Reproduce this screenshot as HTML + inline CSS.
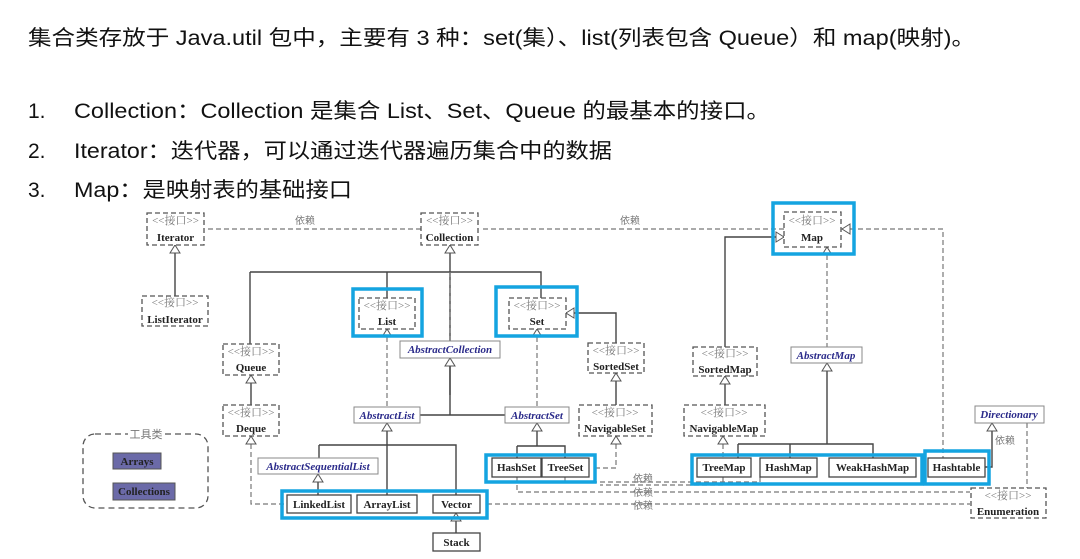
<!DOCTYPE html>
<html><head><meta charset="utf-8"><style>
html,body{margin:0;padding:0;background:#fff;width:1080px;height:559px;overflow:hidden}
svg{display:block}
.t{font-family:"Liberation Sans","Noto Sans CJK SC",sans-serif;font-size:21px;fill:#111}
.st{font-family:"Liberation Serif","Noto Serif CJK SC",serif;font-size:11px;fill:#777}
.nm{font-family:"Liberation Serif",serif;font-size:11px;font-weight:bold;fill:#222}
.ab{font-family:"Liberation Serif",serif;font-size:11px;font-weight:bold;font-style:italic;fill:#2a2a8a}
.dep{font-family:"Noto Sans CJK SC",sans-serif;font-size:10px;fill:#777}
.ib{fill:#fff;stroke:#555;stroke-width:1.3;stroke-dasharray:5,3}
.cb{fill:#fff;stroke:#444;stroke-width:1.3}
.ac{fill:#fff;stroke:#888;stroke-width:1}
.bl{fill:none;stroke:#14a4e0;stroke-width:3.5}
.s{fill:none;stroke:#444;stroke-width:1.4}
.d{fill:none;stroke:#777;stroke-width:1.2;stroke-dasharray:5,3}
.tri{fill:#fff;stroke:#555;stroke-width:1}
</style></head><body>
<svg width="1080" height="559" viewBox="0 0 1080 559" xmlns="http://www.w3.org/2000/svg">
<text class="t" x="28" y="45" textLength="947" lengthAdjust="spacingAndGlyphs">集合类存放于 Java.util 包中，主要有 3 种：set(集）、list(列表包含 Queue）和 map(映射)。</text>
<text class="t" x="28" y="118">1.</text>
<text class="t" x="74" y="118" textLength="696" lengthAdjust="spacingAndGlyphs">Collection：Collection 是集合 List、Set、Queue 的最基本的接口。</text>
<text class="t" x="28" y="158">2.</text>
<text class="t" x="74" y="158" textLength="538" lengthAdjust="spacingAndGlyphs">Iterator：迭代器，可以通过迭代器遍历集合中的数据</text>
<text class="t" x="28" y="197">3.</text>
<text class="t" x="74" y="197" textLength="278" lengthAdjust="spacingAndGlyphs">Map：是映射表的基础接口</text>

<path class="d" d="M421 229 H206"/><text class="dep" x="295" y="224">依赖</text>
<path class="d" d="M784 229 H480"/><text class="dep" x="620" y="224">依赖</text>
<path class="s" d="M175 245 V296"/>
<path class="s" d="M450 245 V395 M250 272 H541 V298 M250 272 V344 M387 272 V298"/>
<path class="d" d="M387 329 V407 M450 272 V341"/>
<path class="s" d="M450 358 V415 M420 415 H505"/>
<path class="d" d="M537 329 V407"/>
<path class="s" d="M566 313 H616 V343 M616 373 V405"/>
<path class="s" d="M251 375 V405"/>
<path class="d" d="M251 436 V504 H287"/>
<path class="s" d="M387 423 V495 M318 474 V495 M319 445 H456 V495 M319 445 V458"/>
<path class="s" d="M537 423 V446 M517 446 H565 V458 M517 446 V458"/>
<path class="d" d="M616 436 V468 H595"/>
<path class="d" d="M517 477 V492 H970 M565 477 V482 H760 M487 504 H970"/>
<path class="d" d="M760 482 V477 M723 477 V485 H600"/>
<text class="dep" x="633" y="482">依赖</text><text class="dep" x="633" y="496">依赖</text><text class="dep" x="633" y="509">依赖</text>
<path class="s" d="M456 513 V533"/>
<path class="s" d="M784 237 H725 V347 M725 376 V405"/>
<path class="d" d="M827 247 V347 M723 436 V458"/>
<path class="s" d="M827 363 V444 M738 444 H873 V458 M738 444 V458 M790 444 V458"/>
<path class="d" d="M842 229 H943 V458"/>
<path class="s" d="M985 467 H992 V423"/>
<path class="d" d="M1027 423 V488"/><text class="dep" x="995" y="444">依赖</text>

<g>
<path class="tri" d="M175 245 l-5 8 h10z"/>
<path class="tri" d="M450 245 l-5 8 h10z"/>
<path class="tri" d="M387 329 l-5 8 h10z"/>
<path class="tri" d="M450 358 l-5 8 h10z"/>
<path class="tri" d="M537 329 l-5 8 h10z"/>
<path class="tri" d="M566 313 l8 -5 v10z"/>
<path class="tri" d="M251 375 l-5 8 h10z"/>
<path class="tri" d="M251 436 l-5 8 h10z"/>
<path class="tri" d="M387 423 l-5 8 h10z"/>
<path class="tri" d="M318 474 l-5 8 h10z"/>
<path class="tri" d="M537 423 l-5 8 h10z"/>
<path class="tri" d="M616 373 l-5 8 h10z"/>
<path class="tri" d="M616 436 l-5 8 h10z"/>
<path class="tri" d="M456 513 l-5 8 h10z"/>
<path class="tri" d="M784 237 l-8 -5 v10z"/>
<path class="tri" d="M827 247 l-5 8 h10z"/>
<path class="tri" d="M842 229 l8 -5 v10z"/>
<path class="tri" d="M725 376 l-5 8 h10z"/>
<path class="tri" d="M723 436 l-5 8 h10z"/>
<path class="tri" d="M827 363 l-5 8 h10z"/>
<path class="tri" d="M992 423 l-5 8 h10z"/>
</g>

<g>
<rect class="ib" x="147" y="213" width="57" height="32"/><text class="st" x="175.5" y="224" text-anchor="middle">&lt;&lt;接口&gt;&gt;</text><text class="nm" x="175.5" y="241" text-anchor="middle">Iterator</text>
<rect class="ib" x="142" y="296" width="66" height="30"/><text class="st" x="175" y="306" text-anchor="middle">&lt;&lt;接口&gt;&gt;</text><text class="nm" x="175" y="323" text-anchor="middle">ListIterator</text>
<rect class="ib" x="421" y="213" width="57" height="32"/><text class="st" x="449.5" y="224" text-anchor="middle">&lt;&lt;接口&gt;&gt;</text><text class="nm" x="449.5" y="241" text-anchor="middle">Collection</text>
<rect class="ib" x="359" y="298" width="56" height="31"/><text class="st" x="387" y="309" text-anchor="middle">&lt;&lt;接口&gt;&gt;</text><text class="nm" x="387" y="325" text-anchor="middle">List</text>
<rect class="ib" x="509" y="298" width="57" height="31"/><text class="st" x="537" y="309" text-anchor="middle">&lt;&lt;接口&gt;&gt;</text><text class="nm" x="537" y="325" text-anchor="middle">Set</text>
<rect class="ib" x="223" y="344" width="56" height="31"/><text class="st" x="251" y="355" text-anchor="middle">&lt;&lt;接口&gt;&gt;</text><text class="nm" x="251" y="371" text-anchor="middle">Queue</text>
<rect class="ib" x="588" y="343" width="56" height="30"/><text class="st" x="616" y="354" text-anchor="middle">&lt;&lt;接口&gt;&gt;</text><text class="nm" x="616" y="370" text-anchor="middle">SortedSet</text>
<rect class="ib" x="223" y="405" width="56" height="31"/><text class="st" x="251" y="416" text-anchor="middle">&lt;&lt;接口&gt;&gt;</text><text class="nm" x="251" y="432" text-anchor="middle">Deque</text>
<rect class="ib" x="579" y="405" width="73" height="31"/><text class="st" x="615" y="416" text-anchor="middle">&lt;&lt;接口&gt;&gt;</text><text class="nm" x="615" y="432" text-anchor="middle">NavigableSet</text>
<rect class="ib" x="784" y="212" width="57" height="35"/><text class="st" x="812" y="224" text-anchor="middle">&lt;&lt;接口&gt;&gt;</text><text class="nm" x="812" y="241" text-anchor="middle">Map</text>
<rect class="ib" x="693" y="347" width="64" height="29"/><text class="st" x="725" y="357" text-anchor="middle">&lt;&lt;接口&gt;&gt;</text><text class="nm" x="725" y="373" text-anchor="middle">SortedMap</text>
<rect class="ib" x="684" y="405" width="81" height="31"/><text class="st" x="724" y="416" text-anchor="middle">&lt;&lt;接口&gt;&gt;</text><text class="nm" x="724" y="432" text-anchor="middle">NavigableMap</text>
<rect class="ib" x="971" y="488" width="75" height="30"/><text class="st" x="1008" y="499" text-anchor="middle">&lt;&lt;接口&gt;&gt;</text><text class="nm" x="1008" y="515" text-anchor="middle">Enumeration</text>
</g>
<g>
<rect class="ac" x="400" y="341" width="100" height="17"/><text class="ab" x="450" y="353" text-anchor="middle">AbstractCollection</text>
<rect class="ac" x="354" y="407" width="66" height="16"/><text class="ab" x="387" y="419" text-anchor="middle">AbstractList</text>
<rect class="ac" x="505" y="407" width="64" height="16"/><text class="ab" x="537" y="419" text-anchor="middle">AbstractSet</text>
<rect class="ac" x="258" y="458" width="120" height="16"/><text class="ab" x="318" y="470" text-anchor="middle">AbstractSequentialList</text>
<rect class="ac" x="791" y="347" width="71" height="16"/><text class="ab" x="826" y="359" text-anchor="middle">AbstractMap</text>
<rect class="ac" x="975" y="406" width="69" height="17"/><text class="ab" x="1009" y="418" text-anchor="middle">Directionary</text>
</g>
<g>
<rect class="cb" x="492" y="458" width="49" height="19"/><text class="nm" x="516.5" y="471" text-anchor="middle">HashSet</text>
<rect class="cb" x="542" y="458" width="47" height="19"/><text class="nm" x="565.5" y="471" text-anchor="middle">TreeSet</text>
<rect class="cb" x="287" y="495" width="64" height="18"/><text class="nm" x="319" y="508" text-anchor="middle">LinkedList</text>
<rect class="cb" x="357" y="495" width="60" height="18"/><text class="nm" x="387" y="508" text-anchor="middle">ArrayList</text>
<rect class="cb" x="433" y="495" width="47" height="18"/><text class="nm" x="456.5" y="508" text-anchor="middle">Vector</text>
<rect class="cb" x="433" y="533" width="47" height="18"/><text class="nm" x="456.5" y="546" text-anchor="middle">Stack</text>
<rect class="cb" x="697" y="458" width="54" height="19"/><text class="nm" x="724" y="471" text-anchor="middle">TreeMap</text>
<rect class="cb" x="760" y="458" width="57" height="19"/><text class="nm" x="788.5" y="471" text-anchor="middle">HashMap</text>
<rect class="cb" x="829" y="458" width="87" height="19"/><text class="nm" x="872.5" y="471" text-anchor="middle">WeakHashMap</text>
<rect class="cb" x="928" y="458" width="57" height="19"/><text class="nm" x="956.5" y="471" text-anchor="middle">Hashtable</text>
</g>
<rect x="83" y="434" width="125" height="74" rx="12" fill="none" stroke="#555" stroke-width="1.3" stroke-dasharray="6,4"/>
<rect x="128" y="428" width="36" height="12" fill="#fff"/>
<text class="dep" x="146" y="438" text-anchor="middle" style="font-size:11px">工具类</text>
<rect x="113" y="453" width="48" height="16" fill="#6b6aa8" stroke="#555"/><text class="nm" x="137" y="465" text-anchor="middle">Arrays</text>
<rect x="113" y="483" width="62" height="17" fill="#6b6aa8" stroke="#555"/><text class="nm" x="144" y="495" text-anchor="middle">Collections</text>
<rect class="bl" x="353" y="289" width="69" height="47"/>
<rect class="bl" x="496" y="287" width="81" height="49"/>
<rect class="bl" x="486" y="455" width="109" height="27"/>
<rect class="bl" x="282" y="491" width="205" height="27"/>
<rect class="bl" x="773" y="203" width="81" height="51"/>
<rect class="bl" x="692" y="455" width="230" height="29"/>
<rect class="bl" x="925" y="451" width="64" height="33"/>
</svg>
</body></html>
